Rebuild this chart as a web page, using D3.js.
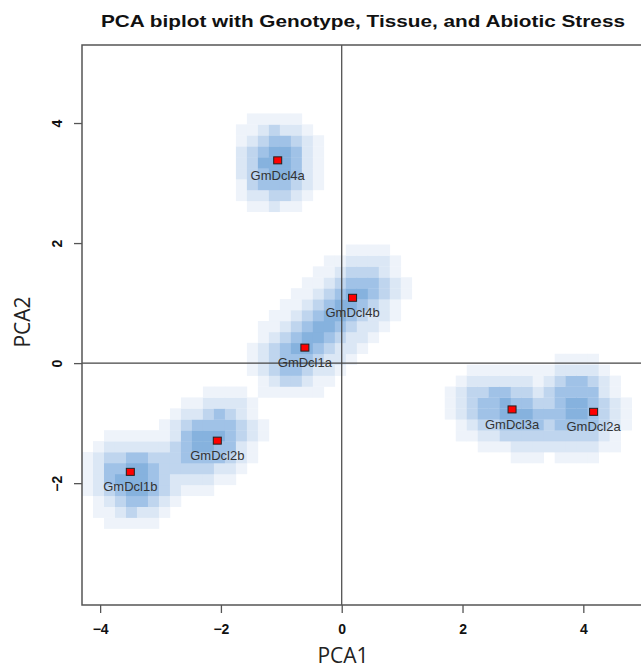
<!DOCTYPE html>
<html lang="en">
<head>
    <meta charset="UTF-8">
    <title>PCA biplot with Genotype, Tissue, and Abiotic Stress</title>
    <script src="https://d3js.org/d3.v7.min.js"></script>
    <style>
        body {
            margin: 0;
            background: #fff;
            overflow: hidden;
        }
        svg text {
            font-family: "Liberation Sans", Arial, sans-serif;
        }
    </style>
</head>
<body>
    <div id="chart"></div>
    <script>
        // Genotype centroids (labelled red squares)
        const genotypes = ["GmDcl4a", "GmDcl4b", "GmDcl1a", "GmDcl3a", "GmDcl2a", "GmDcl2b", "GmDcl1b"];
        const pca1 = [-1.06, 0.18, -0.61, 2.82, 4.17, -2.06, -3.50];
        const pca2 = [3.37, 1.08, 0.25, -0.78, -0.82, -1.30, -1.82];

        // Individual sample scores (tissue x stress) behind the density shading
        const samplePca1 = [
            [-1.08, -1.04, -1.10],
            [0.40, 0.15, -0.10],
            [-0.35, -0.60, -0.85],
            [2.45, 2.80, 3.10],
            [3.75, 4.05, 3.90],
            [-2.40, -1.98, -2.20],
            [-3.65, -3.22, -3.40]
        ];
        const samplePca2 = [
            [3.50, 3.30, 3.15],
            [1.28, 1.05, 0.80],
            [0.55, 0.30, 0.05],
            [-0.70, -0.78, -0.92],
            [-0.85, -0.90, -0.50],
            [-1.45, -1.08, -1.30],
            [-1.85, -1.80, -2.12]
        ];

        const xTicks = [-4, -2, 0, 2, 4];
        const yTicks = [-2, 0, 2, 4];

        const width = 641, height = 671;
        const svg = d3.select("#chart").append("svg")
            .attr("width", width)
            .attr("height", height);

        const x = d3.scaleLinear().domain([-4.3, 5.3]).range([82, 82 + 9.6 * 60.4]);
        const y = d3.scaleLinear().domain([-4.03, 5.3]).range([605, 45]);

        // smoothScatter-like binned density, shown on a fourth-root scale
        const step = 0.182;
        const bw = 0.24;
        const samples = [];
        samplePca1.forEach((g, i) => g.forEach((v, j) => samples.push([v, samplePca2[i][j]])));

        const cells = [];
        for (let gx = x.domain()[0]; gx < x.domain()[1]; gx += step) {
            for (let gy = y.domain()[0]; gy < y.domain()[1]; gy += step) {
                const cx = gx + step / 2, cy = gy + step / 2;
                let d = 0;
                samples.forEach(s => {
                    const dx = (cx - s[0]) / bw, dy = (cy - s[1]) / bw;
                    d += Math.exp(-0.5 * (dx * dx + dy * dy));
                });
                cells.push({ x0: gx, y0: gy, d: Math.pow(d, 0.25) });
            }
        }
        const maxD = d3.max(cells, c => c.d);
        const shade = d3.scaleThreshold()
            .domain([0.28, 0.44, 0.6, 0.74, 0.88])
            .range([null, "#eef3fa", "#dbe7f5", "#bfd5ee", "#a0c2e7", "#86b2de"]);

        const plot = svg.append("g");
        plot.append("clipPath").attr("id", "clip")
            .append("rect").attr("x", 82).attr("y", 45).attr("width", width - 82).attr("height", 560);

        plot.append("g").attr("clip-path", "url(#clip)")
            .selectAll("rect")
            .data(cells.filter(c => shade(c.d / maxD)))
            .join("rect")
            .attr("x", c => x(c.x0))
            .attr("y", c => y(c.y0 + step))
            .attr("width", c => x(c.x0 + step) - x(c.x0) + 0.3)
            .attr("height", c => y(c.y0) - y(c.y0 + step) + 0.3)
            .attr("fill", c => shade(c.d / maxD));

        // zero lines
        plot.append("line")
            .attr("x1", x(0)).attr("x2", x(0))
            .attr("y1", 45).attr("y2", 605)
            .attr("stroke", "#444").attr("stroke-width", 1.2);
        plot.append("line")
            .attr("x1", 82).attr("x2", width)
            .attr("y1", y(0)).attr("y2", y(0))
            .attr("stroke", "#444").attr("stroke-width", 1.2);

        // frame (right side runs off the page)
        svg.append("path")
            .attr("d", `M${width},45H82V605H${width}`)
            .attr("fill", "none")
            .attr("stroke", "#555")
            .attr("stroke-width", 1.5);

        // axes
        const xAxis = svg.append("g")
            .attr("transform", "translate(0,605)")
            .call(d3.axisBottom(x).tickValues(xTicks).tickSize(8).tickPadding(11).tickFormat(d3.format("d")));
        const yAxis = svg.append("g")
            .attr("transform", "translate(82,0)")
            .call(d3.axisLeft(y).tickValues(yTicks).tickSize(8).tickPadding(6).tickFormat(d3.format("d")));
        [xAxis, yAxis].forEach(a => {
            a.select(".domain").remove();
            a.selectAll(".tick line").attr("stroke", "#555").attr("stroke-width", 1.3);
            a.selectAll(".tick text")
                .attr("fill", "#111")
                .style("font-size", "14px")
                .style("font-weight", "bold");
        });
        yAxis.selectAll(".tick text")
            .attr("text-anchor", "middle")
            .attr("x", null)
            .attr("dy", null)
            .attr("transform", "translate(-25,0) rotate(-90)")
            .attr("y", 5);

        // points and labels
        const pts = svg.append("g");
        genotypes.forEach((g, i) => {
            pts.append("rect")
                .attr("x", x(pca1[i]) - 4)
                .attr("y", y(pca2[i]) - 4)
                .attr("width", 8)
                .attr("height", 7)
                .attr("fill", "#ff0000")
                .attr("stroke", "#222")
                .attr("stroke-width", 1);
            pts.append("text")
                .attr("x", x(pca1[i]))
                .attr("y", y(pca2[i]) + 19)
                .attr("text-anchor", "middle")
                .attr("fill", "#333")
                .style("font-size", "13px")
                .text(g);
        });

        // titles
        svg.append("text")
            .attr("x", 363).attr("y", 27)
            .attr("text-anchor", "middle")
            .attr("textLength", 524)
            .attr("lengthAdjust", "spacingAndGlyphs")
            .style("font-size", "17px")
            .style("font-weight", "bold")
            .attr("fill", "#111")
            .text("PCA biplot with Genotype, Tissue, and Abiotic Stress");
        svg.append("text")
            .attr("x", 343).attr("y", 663)
            .attr("text-anchor", "middle")
            .style("font-family", "'Open Sans', sans-serif")
            .style("font-size", "21px")
            .attr("fill", "#222")
            .text("PCA1");
        svg.append("text")
            .attr("transform", "translate(30,322) rotate(-90)")
            .attr("text-anchor", "middle")
            .style("font-family", "'Open Sans', sans-serif")
            .style("font-size", "21px")
            .attr("fill", "#222")
            .text("PCA2");
    </script>
</body>
</html>
